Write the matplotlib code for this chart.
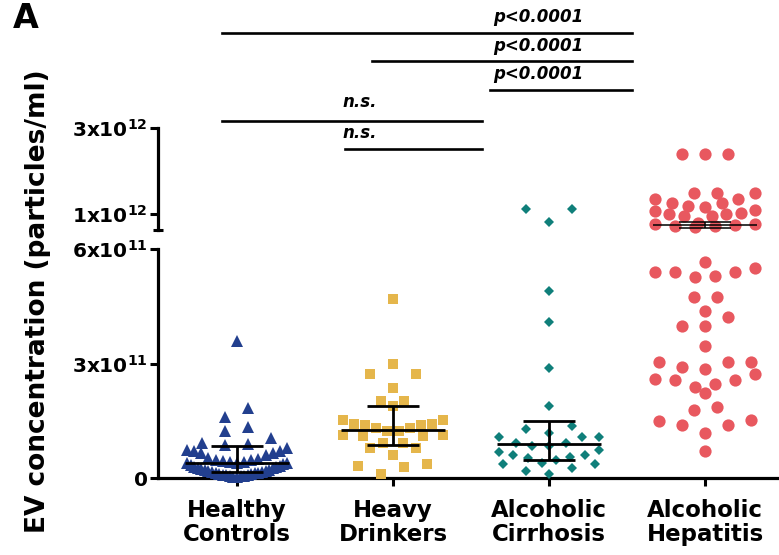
import numpy as np
import matplotlib.pyplot as plt
from matplotlib.transforms import blended_transform_factory

plt.rcParams['font.family'] = 'DejaVu Sans'
plt.rcParams['font.weight'] = 'bold'
plt.rcParams['mathtext.fontset'] = 'dejavusans'

# EV concentration in units of 1e11 particles/ml
healthy = [3.59, 1.83, 1.60, 1.33, 1.22, 1.04, 0.91, 0.89, 0.87, 0.78, 0.74, 0.72, 0.70,
           0.66, 0.65, 0.59, 0.52, 0.50, 0.47, 0.47, 0.45, 0.43, 0.41, 0.40, 0.39, 0.38,
           0.36, 0.34, 0.32, 0.30, 0.28, 0.27, 0.25, 0.24, 0.22, 0.20, 0.19, 0.18, 0.16,
           0.15, 0.14, 0.13, 0.12, 0.11, 0.10, 0.09, 0.08, 0.07, 0.06, 0.05, 0.04, 0.03, 0.02]
heavy = [4.68, 2.99, 2.73, 2.73, 2.36, 2.01, 2.01, 1.88, 1.53, 1.53, 1.39, 1.41, 1.41, 1.39,
         1.31, 1.31, 1.22, 1.22, 1.13, 1.13, 1.09, 1.09, 0.91, 0.91, 0.78, 0.78, 0.60,
         0.36, 0.32, 0.30, 0.10]
cirrhosis = [11.1, 11.1, 8.1, 4.90, 4.09, 2.89, 1.89, 1.37, 1.28, 1.18, 1.07, 1.07, 1.07,
             0.93, 0.93, 0.84, 0.84, 0.74, 0.69, 0.60, 0.60, 0.56, 0.52, 0.47, 0.40, 0.37,
             0.37, 0.25, 0.19, 0.10]
hepatitis = [24.0, 24.0, 24.0, 15.0, 15.0, 14.8, 13.6, 13.6, 12.5, 12.5, 11.9, 11.7, 10.9,
             10.3, 10.7, 10.0, 10.0, 9.5, 9.5, 8.0, 7.8, 7.6, 7.4, 7.2, 7.2, 7.0,
             5.67, 5.50, 5.41, 5.41, 5.39, 5.30, 5.26, 4.74, 4.74, 4.38, 4.22, 3.98, 3.98,
             3.47, 3.04, 3.04, 3.03, 2.91, 2.86, 2.73, 2.60, 2.56, 2.56, 2.45, 2.38, 2.23,
             1.85, 1.77, 1.53, 1.50, 1.38, 1.38, 1.18, 0.72]

groups = ['Healthy\nControls', 'Heavy\nDrinkers', 'Alcoholic\nCirrhosis', 'Alcoholic\nHepatitis']
# median and interquartile range as drawn
medians = [0.39, 1.245, 0.89, 7.44]
q1 = [0.16, 0.87, 0.47, 6.7]
q3 = [0.84, 1.88, 1.50, 8.2]

data = [healthy, heavy, cirrhosis, hepatitis]
colors = ['#223f8e', '#e5b64b', '#0f7f7a', '#e8585f']
markers = ['^', 's', 'D', 'o']
msizes = [8.0, 7.8, 5.6, 8.8]

# significance bars: (x start, x end, line y in figure px, text, text x, text y px)
sig = [(-0.096, 2.53, 33, 'p<0.0001', 1.93, 17),
       (0.865, 2.53, 61, 'p<0.0001', 1.93, 46),
       (1.62, 2.53, 90, 'p<0.0001', 1.93, 74),
       (-0.096, 1.57, 121, 'n.s.', 0.79, 102),
       (0.69, 1.57, 149, 'n.s.', 0.79, 133)]

W, H = 779, 555
fig = plt.figure(figsize=(W / 100, H / 100), dpi=100)
ax = fig.add_axes([158 / W, 1 - 478 / H, (W - 158) / W, (478 - 249) / H])
ax_up = fig.add_axes([158 / W, 1 - 230 / H, (W - 158) / W, (230 - 128) / H])

xlim = (-0.506, 3.474)
for a in (ax, ax_up):
    a.set_xlim(*xlim)
    a.patch.set_visible(False)
    for s in ['top', 'right']:
        a.spines[s].set_visible(False)
    a.spines['left'].set_linewidth(2.3)
    a.tick_params(axis='y', which='major', direction='out', length=6, width=2.2,
                  labelsize=14.5, pad=1.5)
    a.tick_params(axis='y', which='minor', direction='inout', length=7, width=2.2)
ax.set_ylim(0, 6)
ax_up.set_ylim(6.3, 30)
ax_up.spines['bottom'].set_visible(False)
ax_up.set_xticks([])
ax.spines['bottom'].set_linewidth(2.3)

ax.set_yticks([0, 3, 6])
ax.set_yticklabels(['0', r'3x10$^{\mathbf{11}}$', r'6x10$^{\mathbf{11}}$'])
ax.set_yticks([6], minor=True)
ax_up.set_yticks([10, 30])
ax_up.set_yticklabels([r'1x10$^{\mathbf{12}}$', r'3x10$^{\mathbf{12}}$'])
ax_up.set_yticks([6.3], minor=True)

ax.set_xticks(range(len(groups)))
ax.set_xticklabels(groups, fontsize=16.5, linespacing=1.05)
ax.tick_params(axis='x', direction='out', length=6, width=2.2, pad=9)

y0 = ax.transData.transform((0, 0))[1]
px_per_x = ax.transData.transform((1, 0))[0] - ax.transData.transform((0, 0))[0]


def to_pix(v):
    a = ax if v <= 6 else ax_up
    return a.transData.transform((0, v))[1]


def swarm(ypix, bin_h=15.0, max_half=50.0, max_step=23.0):
    # GraphPad-like layout: rows of points, lowest value in the middle
    ypix = np.asarray(ypix)
    off = np.zeros(len(ypix))
    bins = np.floor((ypix - y0) / bin_h)
    for b in np.unique(bins):
        idx = np.where(bins == b)[0]
        idx = idx[np.argsort(ypix[idx], kind='stable')]
        n = len(idx)
        if n < 2:
            continue
        step = min(max_step, 2 * max_half / (n - 1))
        slots = np.arange(n) - (n - 1) / 2
        order = np.argsort(np.abs(slots), kind='stable')
        for k, i in enumerate(idx):
            off[i] = slots[order[k]] * step
    return off


for i, vals in enumerate(data):
    vals = np.asarray(vals)
    ypix = np.array([to_pix(v) for v in vals])
    xs = i + swarm(ypix) / px_per_x
    low = vals <= 6
    for a, m in ((ax, low), (ax_up, ~low)):
        if m.any():
            a.plot(xs[m], vals[m], linestyle='none', marker=markers[i], ms=msizes[i],
                   color=colors[i], markeredgewidth=0, clip_on=False, zorder=3)

    a = ax if medians[i] <= 6 else ax_up
    lw = 2.0 if a is ax else 1.1
    a.hlines(medians[i], i - 0.333, i + 0.333, color='black', lw=lw, zorder=5)
    a.hlines([q1[i], q3[i]], i - 0.167, i + 0.167, color='black', lw=lw, zorder=5)
    a.vlines(i, q1[i], q3[i], color='black', lw=lw, zorder=5)

trans = blended_transform_factory(ax.transData, fig.transFigure)
for x1, x2, ly, label, tx, ty in sig:
    ax_up.plot([x1, x2], [1 - ly / H, 1 - ly / H], color='black', lw=1.9,
               transform=trans, clip_on=False)
    ax_up.text(tx, 1 - ty / H, label, transform=trans, ha='center', va='center',
               fontsize=12, fontweight='bold', style='italic')

fig.text(38 / W, 1 - 301 / H, 'EV concentration (particles/ml)', rotation=90,
         ha='center', va='center', fontsize=19, fontweight='bold')
fig.text(26 / W, 1 - 18 / H, 'A', ha='center', va='center', fontsize=24, fontweight='bold')

fig.savefig('out.png', dpi=100)
